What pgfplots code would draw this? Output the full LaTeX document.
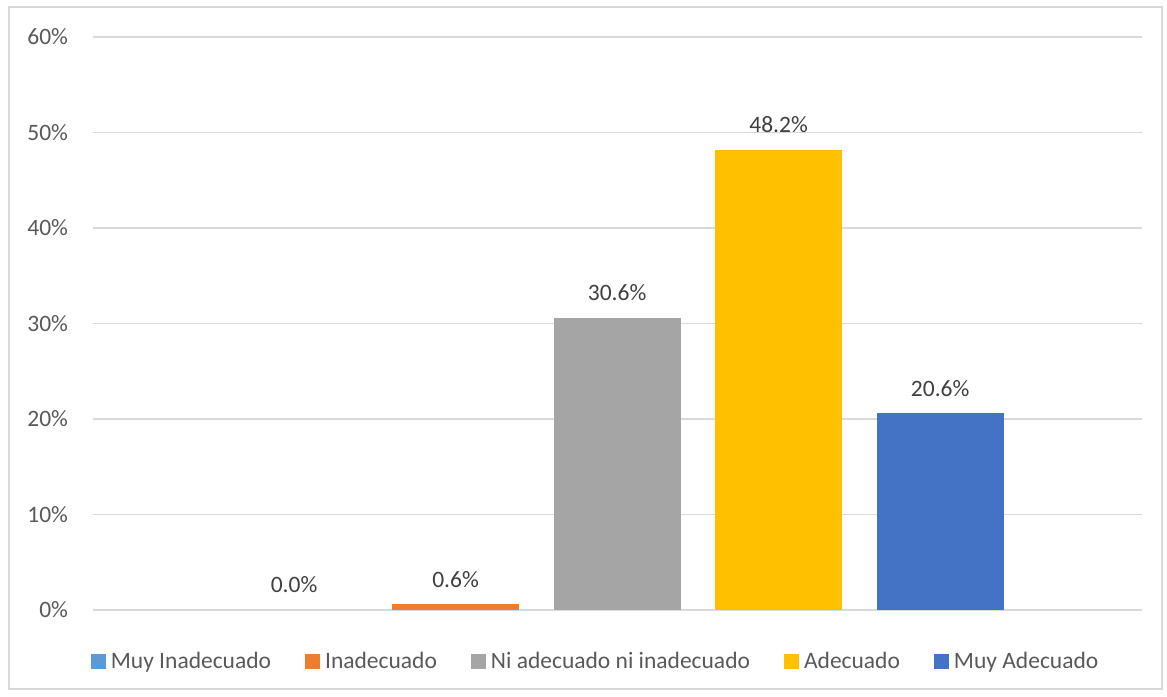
\documentclass[border=0pt]{standalone}
\usepackage{pgfplots}
\pgfplotsset{compat=1.18}
\usepackage{fontspec}
\setmainfont{Carlito}
\definecolor{c1}{HTML}{5B9BD5}
\definecolor{c2}{HTML}{ED7D31}
\definecolor{c3}{HTML}{A5A5A5}
\definecolor{c4}{HTML}{FFC000}
\definecolor{c5}{HTML}{4472C4}
\definecolor{txt}{HTML}{595959}
\definecolor{lbl}{HTML}{404040}
\definecolor{grd}{HTML}{D9D9D9}
\begin{document}
\fontsize{23.5}{28}\selectfont
\begin{tikzpicture}[x=1pt,y=1pt]
\useasboundingbox (0,0) rectangle (1167,696);
\draw[grd, line width=1.5pt] (9,7) rectangle (1162,689);
\begin{axis}[
  at={(93pt,86pt)}, anchor=south west,
  scale only axis, width=1049pt, height=573pt,
  ybar, bar width=127pt, bar shift=0pt,
  xmin=-0.245, xmax=6.25, ymin=0, ymax=60,
  xtick=\empty,
  ytick={0,10,...,60},
  yticklabel={\pgfmathprintnumber{\tick}\%},
  /pgf/number format/assume math mode=true,
  yticklabel style={anchor=east, xshift=-17pt, text=txt},
  major tick length=0pt,
  axis line style={draw=none},
  ymajorgrids, grid style={grd, line width=1.2pt},
  nodes near coords={\pgfmathprintnumber[fixed,fixed zerofill,precision=1]{\pgfplotspointmeta}\%},
  nodes near coords style={anchor=base, yshift=17pt, text=lbl, inner sep=0pt},
  legend columns=5,
  legend style={at={(0.4786,-0.0908)}, anchor=center, draw=none, fill=none,
    text=txt, nodes={inner sep=1pt},
    /tikz/every odd column/.append style={column sep=4pt},
    /tikz/every even column/.append style={column sep=33pt}},
  legend image code/.code={\fill[#1,draw=none] (0pt,-7pt) rectangle (15pt,8pt);},
]
\addplot[fill=none, draw=none, legend image code/.code={\fill[c1] (0pt,-7pt) rectangle (15pt,8pt);}] coordinates {(1,0.0)};
\addlegendentry{Muy Inadecuado}
\addplot[fill=c2, draw=none] coordinates {(2,0.6)};
\addlegendentry{Inadecuado}
\addplot[fill=c3, draw=none] coordinates {(3,30.6)};
\addlegendentry{Ni adecuado ni inadecuado}
\addplot[fill=c4, draw=none] coordinates {(4,48.2)};
\addlegendentry{Adecuado}
\addplot[fill=c5, draw=none] coordinates {(5,20.6)};
\addlegendentry{Muy Adecuado}
\end{axis}
\end{tikzpicture}
\end{document}
